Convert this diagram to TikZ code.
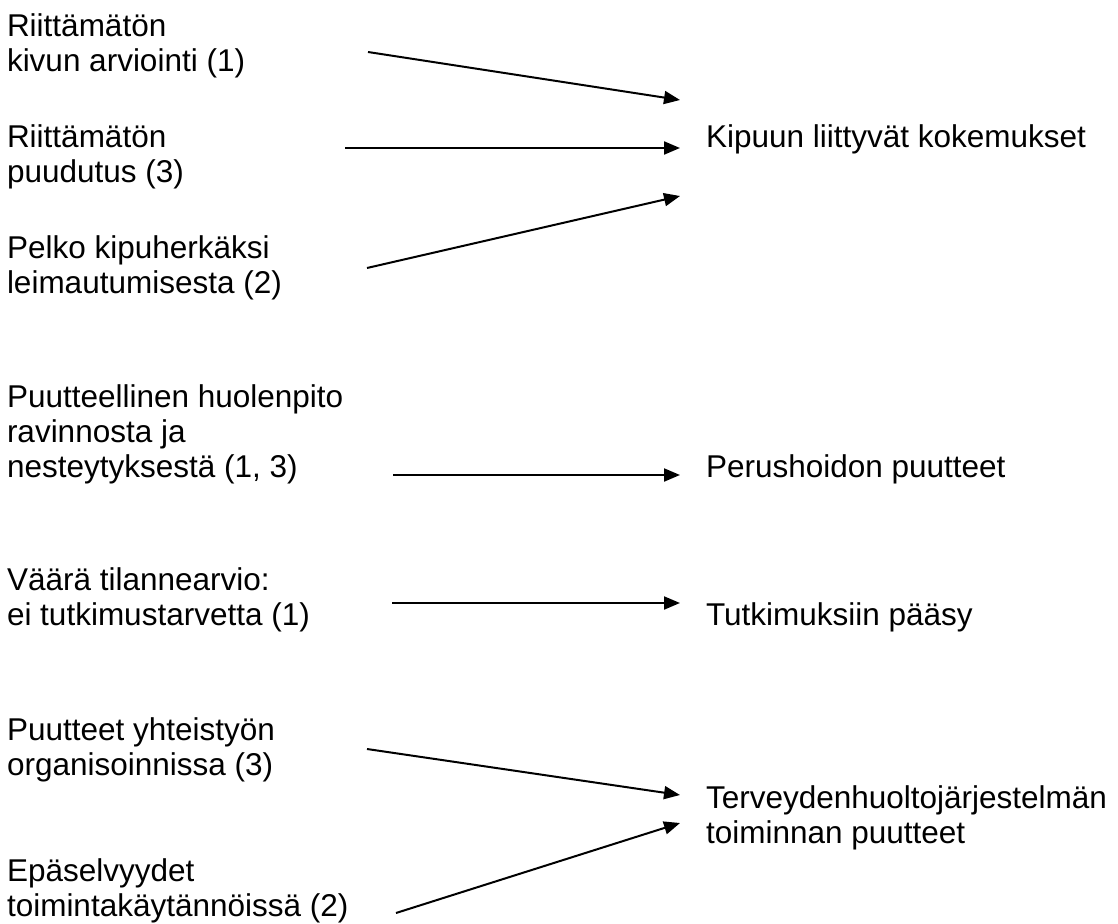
\documentclass[tikz,border=0pt]{standalone}
\usepackage{fontspec}
\setmainfont{Liberation Sans}
\usetikzlibrary{arrows.meta}

\begin{document}
\begin{tikzpicture}[x=1pt,y=-1pt,->,>={Triangle[length=16pt,width=13pt]},line width=2pt]
\useasboundingbox (0,0) rectangle (1118,923);
\begin{scope}[every node/.style={align=left,inner sep=0pt,anchor=base west,font=\fontsize{31.5pt}{35pt}\selectfont}]

\node (c1) at (6,72) {Riittämätön\\kivun arviointi (1)};
\node (c2) at (6,182) {Riittämätön\\puudutus (3)};
\node (c3) at (6,293) {Pelko kipuherkäksi\\leimautumisesta (2)};
\node (c4) at (6,477) {Puutteellinen huolenpito\\ravinnosta ja\\nesteytyksestä (1, 3)};
\node (c5) at (6,625) {Väärä tilannearvio:\\ei tutkimustarvetta (1)};
\node (c6) at (6,775) {Puutteet yhteistyön\\organisoinnissa (3)};
\node (c7) at (6,916) {Epäselvyydet\\toimintakäytännöissä (2)};

\node (kipu) at (705,147) {Kipuun liittyvät kokemukset};
\node (perus) at (705,477) {Perushoidon puutteet};
\node (tutk) at (705,625) {Tutkimuksiin pääsy};
\node (terv) at (705,843) {Terveydenhuoltojärjestelmän\\toiminnan puutteet};

\draw ([shift={(362,-20)}]c1.base west) -- ([shift={(-25,-47)}]kipu.base west);
\draw ([shift={(339,-34)}]c2.base west) -- ([shift={(-25,1)}]kipu.base west);
\draw ([shift={(361,-25)}]c3.base west) -- ([shift={(-25,49)}]kipu.base west);
\draw ([shift={(387,-2)}]c4.base west) -- ([shift={(-25,-2)}]perus.base west);
\draw ([shift={(386,-22)}]c5.base west) -- ([shift={(-25,-22)}]tutk.base west);
\draw ([shift={(361,-26)}]c6.base west) -- ([shift={(-25,-48)}]terv.base west);
\draw ([shift={(390,-3)}]c7.base west) -- ([shift={(-25,-20)}]terv.base west);

\end{scope}
\end{tikzpicture}
\end{document}
